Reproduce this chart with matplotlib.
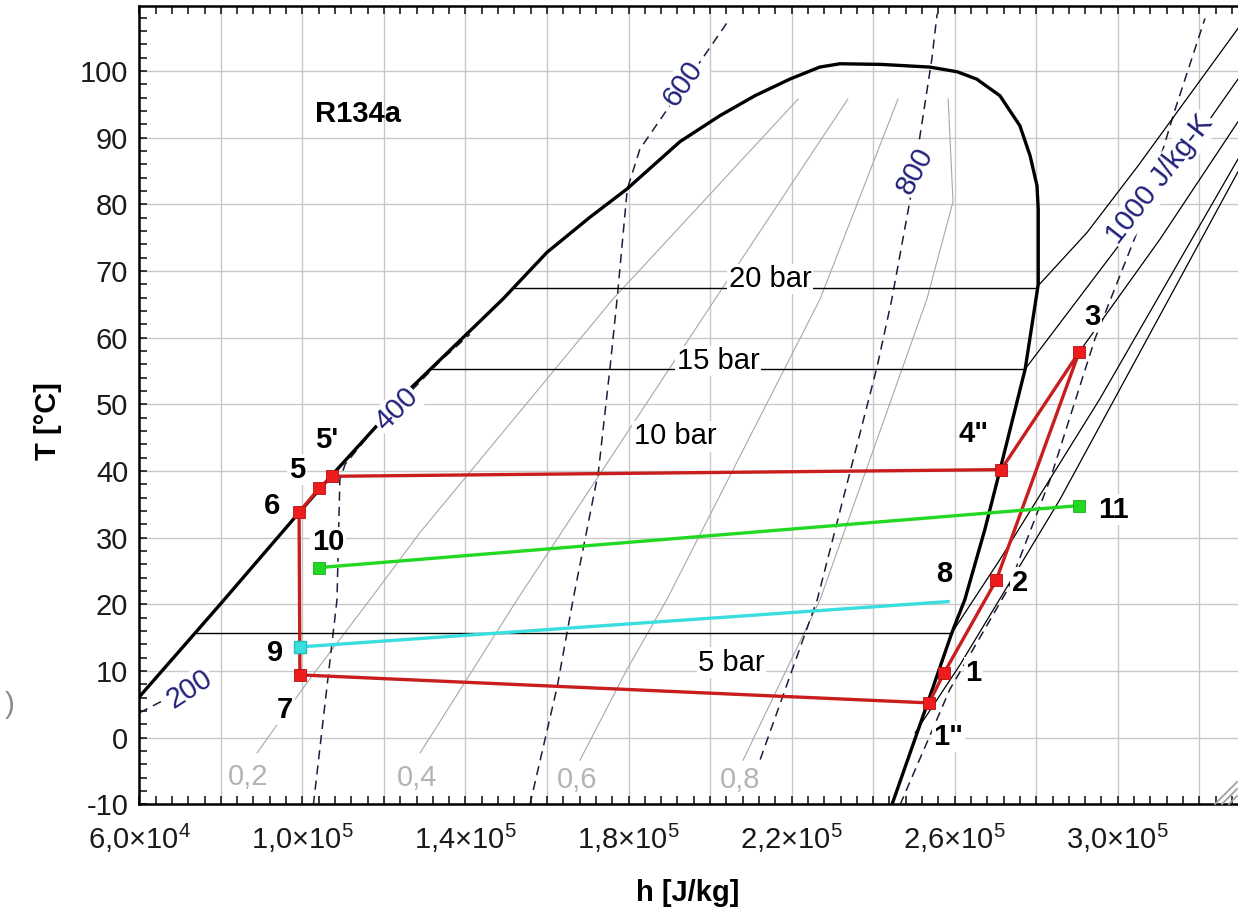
import matplotlib
matplotlib.use("Agg")
import matplotlib.pyplot as plt
from matplotlib.lines import Line2D
from matplotlib.ticker import MultipleLocator, FuncFormatter
import numpy as np

plt.rcParams["font.family"] = ["Liberation Sans", "DejaVu Sans"]
plt.rcParams["mathtext.fontset"] = "custom"
plt.rcParams["mathtext.rm"] = "Liberation Sans"
plt.rcParams["mathtext.it"] = "Liberation Sans:italic"
plt.rcParams["mathtext.bf"] = "Liberation Sans:bold"
plt.rcParams["axes.unicode_minus"] = False

# h in kJ/kg, T in degC
dome_h = [60.0, 80.0, 99.4, 107.0, 126.9, 149.2, 160.0, 170.6, 179.6, 192.6, 202.4, 211.0, 219.6,
          226.9, 231.9, 242.0, 253.9, 260.6, 265.4, 271.1, 276.0, 278.5, 280.2, 280.5, 280.5,
          277.3, 271.1, 267.4, 262.5, 259.3, 253.2, 244.6]
dome_T = [6.1, 20.1, 33.9, 39.2, 52.6, 65.8, 72.8, 78.1, 82.3, 89.4, 93.3, 96.3, 98.8,
          100.6, 101.1, 101.0, 100.6, 99.9, 98.8, 96.3, 91.8, 87.3, 82.8, 79.3, 68.0,
          55.3, 40.1, 31.2, 20.7, 15.7, 4.9, -10.1]

# isobars inside the dome
bar_names = ["20 bar", "15 bar", "5 bar"]
bar_T = [67.4, 55.3, 15.7]
bar_h_liq = [151.5, 131.8, 73.7]
bar_h_vap = [280.3, 277.3, 259.3]
bar_label_h = [214.7, 202.0, 205.3]
bar_label_T = [68.8, 56.5, 11.2]
label10_h, label10_T = 191.4, 45.2

# isobars in the superheated region
sh_h = {
    "20": [280.2, 292.5, 305.0, 329.5],
    "15": [277.3, 290.3, 307.9, 329.5],
    "10": [271.4, 290.5, 310.4, 329.5],
    "5": [259.3, 271.1, 295.6, 329.5],
    "3": [250.3, 261.3, 285.8, 329.5],
}
sh_T = {
    "20": [67.6, 75.8, 85.8, 106.4],
    "15": [55.3, 65.8, 80.0, 98.8],
    "10": [40.2, 57.8, 74.8, 92.4],
    "5": [15.7, 26.7, 50.8, 86.8],
    "3": [0.7, 10.9, 35.7, 84.9],
}

# vapour quality lines
q_names = ["0,2", "0,4", "0,6", "0,8"]
q_h = [[88.9, 101.1, 116.6, 128.9, 176.2, 221.6],
       [128.9, 152.7, 201.7, 233.8],
       [168.1, 179.6, 189.4, 227.0, 246.1],
       [208.1, 227.0, 253.2, 259.6, 258.4]]
q_T = [[-2.3, 8.2, 20.7, 30.8, 65.8, 95.8],
       [-2.3, 20.7, 66.2, 95.8],
       [-3.4, 10.2, 20.7, 65.8, 95.8],
       [-3.4, 20.7, 65.8, 80.4, 95.8]]
q_label_h = [86.7, 128.1, 167.4, 207.4]
q_label_T = [-5.9, -6.0, -6.3, -6.3]

# isentropes (J/kg-K)
s_names = ["200", "400", "600", "800", "1000 J/kg-K"]
s_h = [[60.0, 66.3],
       [102.7, 108.5, 109.2, 110.5, 117.1, 133.8, 141.1],
       [155.8, 162.5, 166.4, 172.6, 175.5, 177.2, 179.7, 182.8, 204.9],
       [212.3, 226.3, 241.0, 244.6, 249.1, 251.5, 254.4, 255.7],
       [246.6, 258.8, 273.0, 283.4, 294.4, 305.5, 314.1, 321.4]]
s_T = [[3.7, 5.7],
       [-10.1, 20.7, 38.7, 41.0, 45.9, 56.5, 60.5],
       [-10.1, 7.6, 20.7, 39.8, 55.7, 65.8, 82.3, 88.3, 107.9],
       [-3.3, 20.7, 55.7, 65.8, 80.8, 90.3, 101.8, 108.6],
       [-10.1, 7.2, 22.2, 38.7, 59.8, 77.0, 94.3, 107.9]]
s_label_h = [72.4, 123.2, 193.4, 250.3, 310.4]
s_label_T = [7.2, 49.2, 98.1, 85.0, 83.8]
s_label_rot = [33, 45, 55, 62, 52]

# cycle state points
pt = {
    "1": (257.4, 9.7), "1''": (253.7, 5.2), "2": (270.2, 23.6), "3": (290.5, 57.8),
    "4''": (271.4, 40.2), "5'": (107.3, 39.2), "5": (104.1, 37.4), "6": (99.2, 33.8),
    "7": (99.4, 9.4), "9": (99.4, 13.6), "10": (104.1, 25.5), "11": (290.5, 34.8),
    "8": (258.4, 20.4),
}
red_path = ["1''", "1", "2", "3", "4''", "5'", "5", "6", "7", "1''"]
red_marks = ["1''", "1", "2", "3", "4''", "5'", "5", "6", "7"]
green_path = ["10", "11"]
cyan_path = ["9", "8"]

pt_labels = ["1", '1"', "2", "3", '4"', "5'", "5", "6", "7", "8", "9", "10", "11"]
pt_label_h = [264.6, 258.4, 276.0, 293.7, 264.6, 106.0, 98.7, 92.6, 95.8, 257.4, 93.3, 106.3, 298.9]
pt_label_T = [9.7, 0.1, 23.2, 63.1, 45.5, 44.7, 40.2, 34.7, 4.2, 24.5, 12.7, 29.3, 34.2]

K = 1e3
FS = 21
white = dict(facecolor="white", edgecolor="none", pad=1.0)
navy = "#22227a"
dash_col = "#1c1c3c"

fig = plt.figure(figsize=(12.38, 9.15), dpi=100)
ax = fig.add_axes([0.1125, 0.1211, 0.8875, 0.8726])
ax.set_xlim(60 * K, 329.5 * K)
ax.set_ylim(-10, 109.8)

# quality lines
for hs, ts, name, lh, lt in zip(q_h, q_T, q_names, q_label_h, q_label_T):
    ax.plot(np.array(hs) * K, ts, color="#a8a8a8", lw=0.8, zorder=1)
    ax.text(lh * K, lt, name, color="#b4b4b4", fontsize=FS, ha="center", va="center", zorder=6)

# isentropes
for hs, ts, name, lh, lt, rot in zip(s_h, s_T, s_names, s_label_h, s_label_T, s_label_rot):
    ax.plot(np.array(hs) * K, ts, color=dash_col, lw=1.1, ls=(0, (6, 4)), zorder=2)
    ax.text(lh * K, lt, name, color=navy, fontsize=FS, ha="center", va="center",
            rotation=rot, rotation_mode="anchor", bbox=white, zorder=6)

# isobars
for name, T, h1, h2, lh, lt in zip(bar_names, bar_T, bar_h_liq, bar_h_vap, bar_label_h, bar_label_T):
    ax.plot([h1 * K, h2 * K], [T, T], color="black", lw=1.0, zorder=2)
    ax.text(lh * K, lt, name, fontsize=FS, ha="center", va="center", bbox=white, zorder=6)
ax.text(label10_h * K, label10_T, "10 bar", fontsize=FS, ha="center", va="center", bbox=white, zorder=6)
for key in sh_h:
    ax.plot(np.array(sh_h[key]) * K, sh_T[key], color="black", lw=0.9, zorder=2)

# saturation dome
ax.plot(np.array(dome_h) * K, dome_T, color="black", lw=2.4, zorder=3)

# cycle
red_line = "#c81e1e"
ax.plot([pt[p][0] * K for p in red_path], [pt[p][1] for p in red_path], color=red_line, lw=2.4, zorder=4)
ax.plot([pt[p][0] * K for p in red_marks], [pt[p][1] for p in red_marks], ls="none", marker="s",
        ms=9, color="#ee1c1c", mec="#b01010", mew=0.6, zorder=5)
ax.plot([pt[p][0] * K for p in green_path], [pt[p][1] for p in green_path], color="#22d822", lw=2.4,
        marker="s", ms=9, mec="#18b018", mew=0.6, zorder=4)
ax.plot([pt[p][0] * K for p in cyan_path], [pt[p][1] for p in cyan_path], color="#3adede", lw=2.4, zorder=4)
ax.plot(pt["9"][0] * K, pt["9"][1], ls="none", marker="s", ms=9, color="#3adede", mec="#20c0c0", zorder=5)

for name, lh, lt in zip(pt_labels, pt_label_h, pt_label_T):
    ax.text(lh * K, lt, name, fontsize=FS, fontweight="bold", ha="center", va="center", bbox=white, zorder=6)
ax.text(113.7 * K, 93.6, "R134a", fontsize=FS, fontweight="bold", ha="center", va="center", zorder=6)

# axes styling
ax.xaxis.set_major_locator(MultipleLocator(2e4))
ax.xaxis.set_minor_locator(MultipleLocator(4e3))
ax.yaxis.set_major_locator(MultipleLocator(10))
ax.yaxis.set_minor_locator(MultipleLocator(2))


def h_fmt(v, pos):
    if int(round(v / 1e4)) % 4 != 2:
        return ""
    e = int(np.floor(np.log10(v)))
    m = ("%.1f" % (v / 10 ** e)).replace(".", ",")
    return m + "\u00d710$^{%d}$" % e


ax.xaxis.set_major_formatter(FuncFormatter(h_fmt))
ax.tick_params(which="both", direction="in", length=6, width=1.2, top=True, right=False,
               labelsize=FS, colors="#1a1a1a")
ax.tick_params(axis="x", pad=13)
ax.tick_params(axis="y", pad=8)
ax.grid(True, which="major", color="#c8c8c8", lw=1.0, zorder=0)
ax.set_axisbelow(True)
ax.spines["right"].set_visible(False)
for side in ["left", "top", "bottom"]:
    ax.spines[side].set_linewidth(1.8)

ax.set_xlabel("h [J/kg]", fontsize=FS, fontweight="bold")
ax.set_ylabel("T [°C]", fontsize=FS, fontweight="bold")
ax.xaxis.set_label_coords(0.499, -0.094)
ax.yaxis.set_label_coords(-0.070, 0.48)

# stray bracket at the left margin and the window resize grip
fig.text(0.004, 1 - 705 / 915, ")", fontsize=FS, color="#8a8a8a", va="center")
for x0, y1 in [(1215, 782), (1222, 789), (1229, 796)]:
    fig.add_artist(Line2D([x0 / 1238, 1237 / 1238], [1 - 804 / 915, 1 - y1 / 915],
                          transform=fig.transFigure, color="#a0a0a0", lw=1.3))

fig.savefig("out.png", dpi=100)
